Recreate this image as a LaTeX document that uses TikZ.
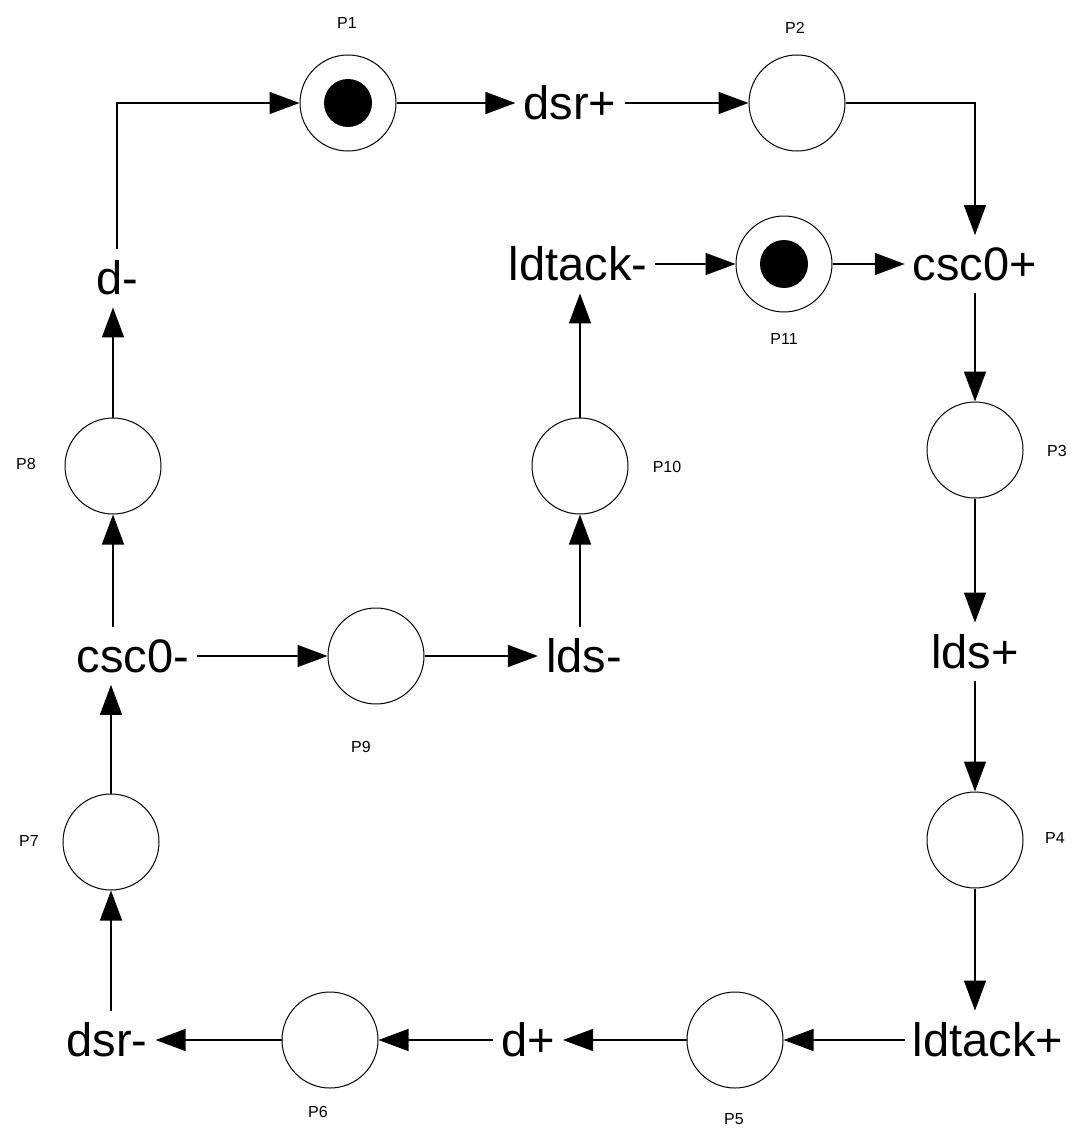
\documentclass[tikz,border=0pt]{standalone}
\usepackage{fontspec}
\setmainfont{Liberation Sans}
\usetikzlibrary{arrows.meta}

\tikzset{
  place/.style={draw, circle, line width=1pt, minimum size=96pt, inner sep=0pt},
  token/.style={place, path picture={\fill (path picture bounding box.center) circle (24pt);}},
  trans/.style={font=\fontsize{47}{50}\selectfont, inner xsep=8pt, inner ysep=12pt},
  plabel/.style={font=\fontsize{16}{18}\selectfont, inner sep=0pt},
  arc/.style={-{Triangle[length=30pt,width=22pt]}, line width=1.4pt}
}

\begin{document}
\begin{tikzpicture}[x=1pt,y=-1pt]
  \useasboundingbox[fill=white] (0,0) rectangle (1071,1129);

  % places
  \node[token] (P1)  at (348,103) {};
  \node[place] (P2)  at (797,103) {};
  \node[place] (P3)  at (975,450) {};
  \node[place] (P4)  at (975,840) {};
  \node[place] (P5)  at (735,1040) {};
  \node[place] (P6)  at (330,1040) {};
  \node[place] (P7)  at (111,842) {};
  \node[place] (P8)  at (113,466) {};
  \node[place] (P9)  at (376,656) {};
  \node[place] (P10) at (580,466) {};
  \node[token] (P11) at (784,264) {};

  % place names
  \node[plabel] (lP1)  at (347,23)   {P1};
  \node[plabel] (lP2)  at (795,28)   {P2};
  \node[plabel] (lP3)  at (1057,451) {P3};
  \node[plabel] (lP4)  at (1055,838) {P4};
  \node[plabel] (lP5)  at (734,1119) {P5};
  \node[plabel] (lP6)  at (318,1112) {P6};
  \node[plabel] (lP7)  at (29,841)   {P7};
  \node[plabel] (lP8)  at (26,464)   {P8};
  \node[plabel] (lP9)  at (361,747)  {P9};
  \node[plabel] (lP10) at (667,467)  {P10};
  \node[plabel] (lP11) at (784,339)  {P11};

  % transitions
  \node[trans] (dsr+)    at (570,103)  {dsr+};
  \node[trans] (csc0+)   at (975,264)  {csc0+};
  \node[trans] (ldtack-) at (578,264)  {ldtack-};
  \node[trans] (lds+)    at (975,652)  {lds+};
  \node[trans] (ldtack+) at (988,1040) {ldtack+};
  \node[trans] (d+)      at (528,1040) {d+};
  \node[trans] (dsr-)    at (107,1040) {dsr-};
  \node[trans] (csc0-)   at (133,656)  {csc0-};
  \node[trans] (lds-)    at (584,656)  {lds-};
  \node[trans] (d-)      at (117,278)  {d-};

  % arcs
  \draw[arc] (d-) |- (P1);
  \draw[arc] (P1) -- (dsr+);
  \draw[arc] (dsr+) -- (P2);
  \draw[arc] (P2) -| (csc0+);
  \draw[arc] (ldtack-) -- (P11);
  \draw[arc] (P11) -- (csc0+);
  \draw[arc] (csc0+) -- (P3);
  \draw[arc] (P3) -- (lds+);
  \draw[arc] (lds+) -- (P4);
  \draw[arc] (P4) -- (P4 |- ldtack+.north);
  \draw[arc] (ldtack+) -- (P5);
  \draw[arc] (P5) -- (d+);
  \draw[arc] (d+) -- (P6);
  \draw[arc] (P6) -- (dsr-);
  \draw[arc] (P7 |- dsr-.north) -- (P7);
  \draw[arc] (P7) -- (P7 |- csc0-.south);
  \draw[arc] (P8 |- csc0-.north) -- (P8);
  \draw[arc] (P8) -- (P8 |- d-.south);
  \draw[arc] (csc0-) -- (P9);
  \draw[arc] (P9) -- (lds-);
  \draw[arc] (P10 |- lds-.north) -- (P10);
  \draw[arc] (P10) -- (P10 |- ldtack-.south);
\end{tikzpicture}
\end{document}
